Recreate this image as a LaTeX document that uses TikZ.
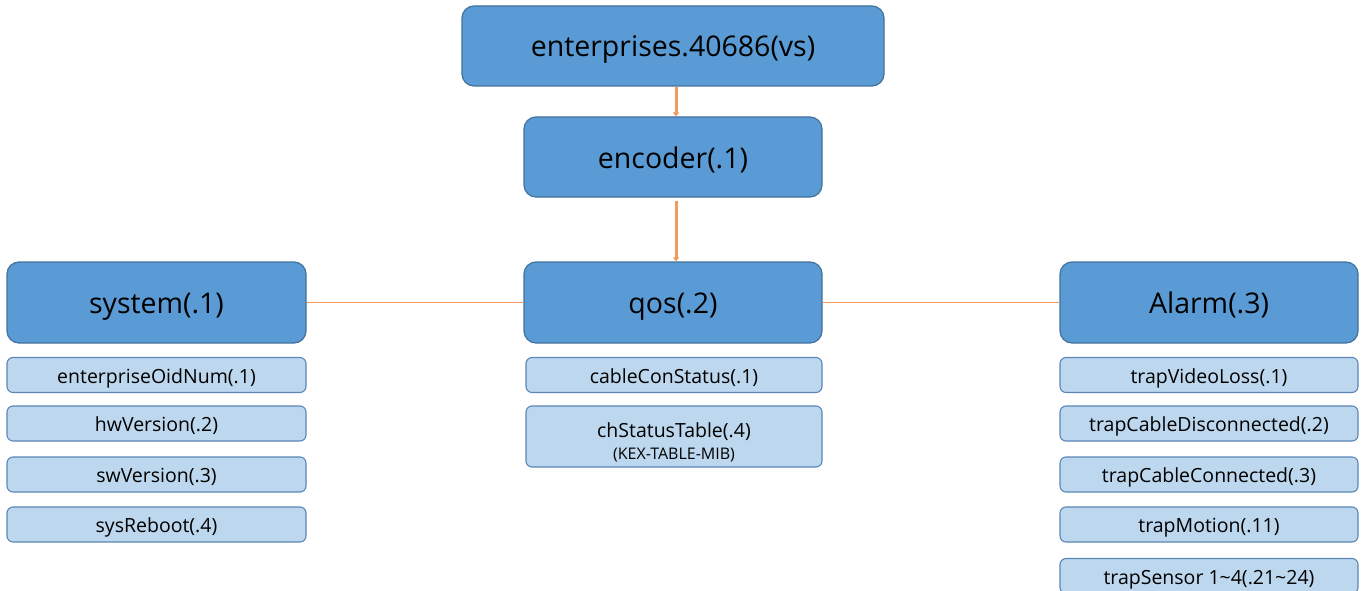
\documentclass[tikz,border=0pt]{standalone}
\usepackage{fontspec}
\setmainfont{Open Sans}
\usetikzlibrary{arrows.meta}
\definecolor{boxfill}{HTML}{5B9BD5}
\definecolor{boxline}{HTML}{41719C}
\definecolor{leaffill}{HTML}{BDD7EE}
\definecolor{leafline}{HTML}{5B86B5}
\definecolor{linkorange}{HTML}{F29A5E}
\tikzset{
  topbox/.style={draw=boxline, line width=1.2pt, fill=boxfill, rounded corners=12pt,
    inner sep=0pt, font=\fontsize{28.5}{32}\selectfont, text=black,
    text height=27pt, text depth=5pt},
  leaf/.style={draw=leafline, line width=1.1pt, fill=leaffill, rounded corners=6pt,
    minimum width=299pt, minimum height=35pt, inner sep=0pt,
    font=\fontsize{19.5}{22}\selectfont, text=black,
    text height=20pt, text depth=4pt},
  leafbox/.style={draw=leafline, line width=1.1pt, fill=leaffill, rounded corners=6pt,
    inner sep=0pt},
  down/.style={draw=linkorange, line width=3pt, -{Triangle[length=4pt,width=6pt]}},
  link/.style={draw=linkorange, line width=1.6pt},
}
\begin{document}
\begin{tikzpicture}[x=1pt,y=-1pt]
\useasboundingbox (0,0) rectangle (1365,591);
\clip (0,0) rectangle (1365,591);

% tree root and second level
\node[topbox, minimum width=422pt, minimum height=80pt] (ent) at (673,46) {enterprises.40686(vs)};
\node[topbox, minimum width=298pt, minimum height=80pt] (enc) at (673,157) {encoder(.1)};

% third level
\node[topbox, minimum width=299pt, minimum height=81pt] (sys) at (156.5,302.5) {system(.1)};
\node[topbox, minimum width=298pt, minimum height=81pt] (qos) at (673,302.5) {qos(.2)};
\node[topbox, minimum width=298pt, minimum height=81pt] (alm) at (1209,302.5) {Alarm(.3)};

% connectors
\draw[down] ([xshift=3pt]ent.south) -- ([xshift=3pt]enc.north);
\draw[down] ([xshift=3pt,yshift=-3pt]enc.south) -- ([xshift=3pt]qos.north);
\draw[link] (sys.east) -- (qos.west);
\draw[link] (qos.east) -- (alm.west);

% system objects
\node[leaf] (s1) at (156.5,375)   {enterpriseOidNum(.1)};
\node[leaf] (s2) at (156.5,423.5) {hwVersion(.2)};
\node[leaf] (s3) at (156.5,474.5) {swVersion(.3)};
\node[leaf] (s4) at (156.5,524.5) {sysReboot(.4)};

% qos objects
\node[leaf, minimum width=296pt] (q1) at (674,375) {cableConStatus(.1)};
\node[leafbox, minimum width=296pt, minimum height=61pt] (q2) at (674,436.5) {};
\node[inner sep=0pt, anchor=base, font=\fontsize{19.5}{22}\selectfont] (q2a) at (674,437) {chStatusTable(.4)};
\node[inner sep=0pt, anchor=base, font=\fontsize{16}{18}\selectfont] (q2b) at (674,459) {(KEX-TABLE-MIB)};

% alarm traps
\node[leaf, minimum width=298pt] (a1) at (1209,375)   {trapVideoLoss(.1)};
\node[leaf, minimum width=298pt] (a2) at (1209,423.5) {trapCableDisconnected(.2)};
\node[leaf, minimum width=298pt] (a3) at (1209,474.5) {trapCableConnected(.3)};
\node[leaf, minimum width=298pt] (a4) at (1209,524.5) {trapMotion(.11)};
\node[leaf, minimum width=298pt] (a5) at (1209,576)   {trapSensor 1\char`\~4(.21\char`\~24)};
\end{tikzpicture}
\end{document}
